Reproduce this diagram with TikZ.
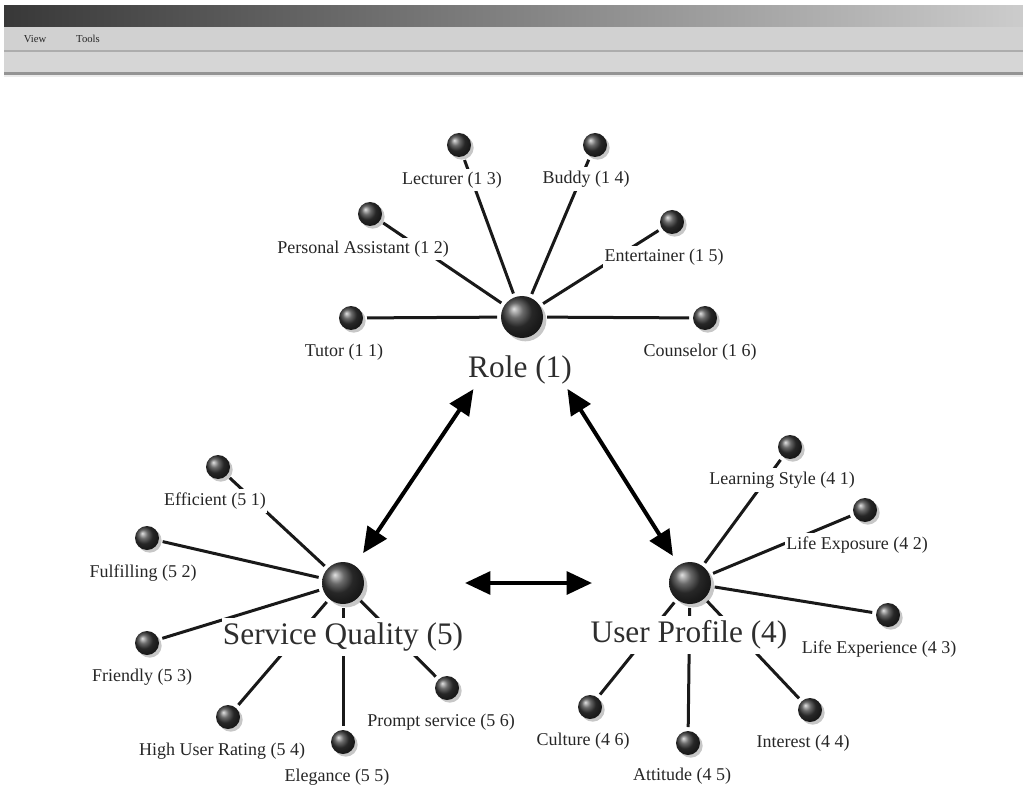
\documentclass[tikz,border=0pt]{standalone}
\usepackage{fontspec}
\setmainfont{Liberation Serif}
\usetikzlibrary{arrows.meta,shadows}
\tikzset{
  hub/.style={circle, minimum size=31.5pt, inner sep=0pt, outer sep=0pt,
    shading=ball, ball color=black!78,
    drop shadow={shadow xshift=2.5pt, shadow yshift=-2.5pt, opacity=1, fill=black!22}},
  leaf/.style={circle, minimum size=18pt, inner sep=0pt, outer sep=0pt,
    shading=ball, ball color=black!78,
    drop shadow={shadow xshift=2pt, shadow yshift=-2pt, opacity=1, fill=black!22}},
  leaflbl/.style={fill=white, inner xsep=1pt, inner ysep=2.5pt, text=black!85,
    font=\fontsize{13.5}{15}\selectfont},
  hublbl/.style={fill=white, inner xsep=1pt, inner ysep=3.5pt, text=black!82,
    font=\fontsize{23.5}{26}\selectfont},
  spoke/.style={line width=2.25pt, black!90, shorten <=3pt, shorten >=3pt},
  link/.style={line width=3pt, black,
    {Triangle[length=19pt,width=17pt]}-{Triangle[length=19pt,width=17pt]}},
  menutxt/.style={font=\fontsize{8}{9}\selectfont, text=black!85, inner sep=0pt},
}
\begin{document}
\begin{tikzpicture}[x=0.75pt,y=-0.75pt]
\useasboundingbox (0,0) rectangle (1023,791);
\fill[white] (0,0) rectangle (1023,791);
% window chrome
\shade[left color=black!78, right color=black!20] (4,6) rectangle (1023,27);
\fill[black!18] (4,27) rectangle (1023,50);
\fill[black!32] (4,50) rectangle (1023,52);
\fill[black!16] (4,52) rectangle (1023,72);
\fill[black!42] (4,72) rectangle (1023,75);
\fill[black!8] (4,75) rectangle (1023,77);
\node[menutxt] (view) at (35,39) {View};
\node[menutxt] (tools) at (88,39) {Tools};

% hubs
\node[hub] (role) at (522,317) {};
\node[hub] (sq) at (343,583) {};
\node[hub] (up) at (690,583) {};

% leaves
\node[leaf] (r1) at (351,318) {};
\node[leaf] (r2) at (370,214) {};
\node[leaf] (r3) at (459,145) {};
\node[leaf] (r4) at (595,145) {};
\node[leaf] (r5) at (672,222) {};
\node[leaf] (r6) at (705,318) {};
\node[leaf] (s1) at (218,467) {};
\node[leaf] (s2) at (147,538) {};
\node[leaf] (s3) at (147,643) {};
\node[leaf] (s4) at (228,717) {};
\node[leaf] (s5) at (343,742) {};
\node[leaf] (s6) at (447,688) {};
\node[leaf] (u1) at (790,447) {};
\node[leaf] (u2) at (865,510) {};
\node[leaf] (u3) at (888,615) {};
\node[leaf] (u4) at (810,710) {};
\node[leaf] (u5) at (688,743) {};
\node[leaf] (u6) at (590,707) {};

% spokes (drawn before the labels, which hide them)
\foreach \n in {r1,r2,r3,r4,r5,r6} \draw[spoke] (role) -- (\n);
\foreach \n in {s1,s2,s3,s4,s5,s6} \draw[spoke] (sq) -- (\n);
\foreach \n in {u1,u2,u3,u4,u5,u6} \draw[spoke] (up) -- (\n);

% labels
\node[hublbl] (roleL) at (520,370) {Role (1)};
\node[hublbl] (sqL) at (343,637) {Service Quality (5)};
\node[hublbl] (upL) at (689,635) {User Profile (4)};
\node[leaflbl] (r1L) at (344,352) {Tutor (1 1)};
\node[leaflbl] (r2L) at (363,249) {Personal Assistant (1 2)};
\node[leaflbl] (r3L) at (452,180) {Lecturer (1 3)};
\node[leaflbl] (r4L) at (586,179) {Buddy (1 4)};
\node[leaflbl] (r5L) at (664,257) {Entertainer (1 5)};
\node[leaflbl] (r6L) at (700,352) {Counselor (1 6)};
\node[leaflbl] (s1L) at (215,501) {Efficient (5 1)};
\node[leaflbl] (s2L) at (143,573) {Fulfilling (5 2)};
\node[leaflbl] (s3L) at (142,677) {Friendly (5 3)};
\node[leaflbl] (s4L) at (222,751) {High User Rating (5 4)};
\node[leaflbl] (s5L) at (337,777) {Elegance (5 5)};
\node[leaflbl] (s6L) at (441,722) {Prompt service (5 6)};
\node[leaflbl] (u1L) at (782,480) {Learning Style (4 1)};
\node[leaflbl] (u2L) at (857,545) {Life Exposure (4 2)};
\node[leaflbl] (u3L) at (879,649) {Life Experience (4 3)};
\node[leaflbl] (u4L) at (803,743) {Interest (4 4)};
\node[leaflbl] (u5L) at (682,776) {Attitude (4 5)};
\node[leaflbl] (u6L) at (583,741) {Culture (4 6)};

% links between hubs
\draw[link, shorten <=49.5pt, shorten >=11.25pt] (role) -- (sq);
\draw[link, shorten <=48pt, shorten >=8.25pt] (role) -- (up);
\draw[link, shorten <=75.75pt, shorten >=57.75pt] (sq) -- (up);
\end{tikzpicture}
\end{document}
